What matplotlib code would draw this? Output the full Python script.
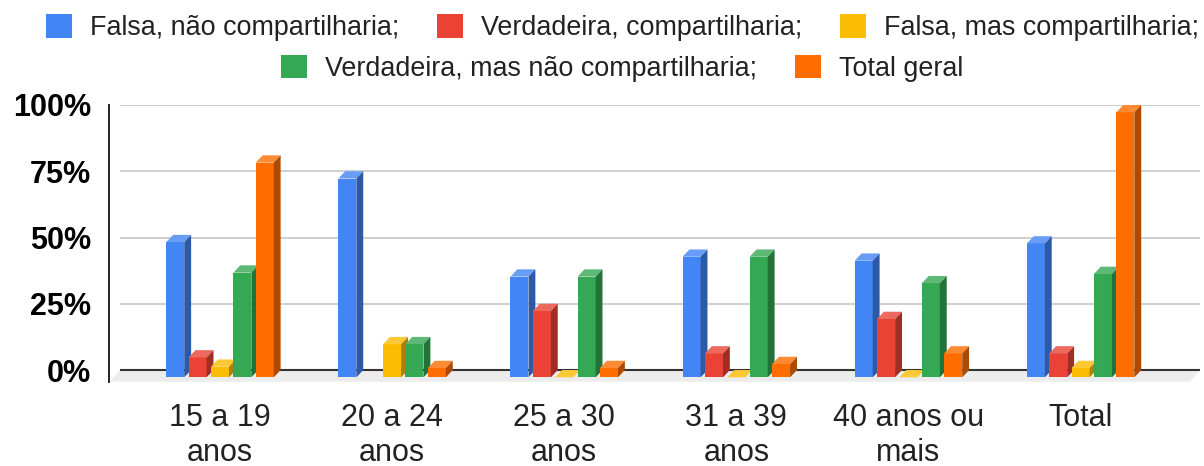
import matplotlib.pyplot as plt
import matplotlib.colors as mcolors
from matplotlib.patches import Polygon, Rectangle
import numpy as np

plt.rcParams['font.family'] = ['Liberation Sans', 'DejaVu Sans']

# faixas etárias
categorias = ['15 a 19\nanos', '20 a 24\nanos', '25 a 30\nanos',
              '31 a 39\nanos', '40 anos ou\nmais', 'Total']

series = ['Falsa, não compartilharia;', 'Verdadeira, compartilharia;',
          'Falsa, mas compartilharia;', 'Verdadeira, mas não compartilharia;',
          'Total geral']

# valores em % (nan = sem dado)
falsa_nao = [51, 75, 38, 45.5, 44, 50.5]
verdadeira_comp = [7.5, np.nan, 25, 9, 22, 9]
falsa_mas = [4, 12.5, 0, 0, 0, 3.5]
verdadeira_nao = [39.5, 12.5, 38, 45.5, 35.5, 39]
total_geral = [81, 3.5, 3.5, 5, 9, 100]

valores = [falsa_nao, verdadeira_comp, falsa_mas, verdadeira_nao, total_geral]
cores = ['#4285F4', '#EA4335', '#FBBC04', '#34A853', '#FF6D01']


def escurecer(c, f):
    r, g, b = mcolors.to_rgb(c)
    return (r * f, g * f, b * f)


def clarear(c, f):
    r, g, b = mcolors.to_rgb(c)
    return (r + (1 - r) * f, g + (1 - g) * f, b + (1 - b) * f)


fig = plt.figure(figsize=(12.04, 4.66), dpi=100)
ax = fig.add_axes([0.0905, 0.1809, 0.9062, 0.5938])

x_esq, x_dir = -0.645, 5.694
y_min, y_max = -4.4, 100
ax.set_xlim(x_esq, x_dir)
ax.set_ylim(y_min, y_max)

# profundidade do efeito 3D (unidades de dados)
dx = 0.040
dy = 2.75
passo = 0.130
larg = 0.1046

# chão
fundo_esq, fundo_dir = -0.581, x_dir
chao = Polygon([(fundo_esq, 0), (fundo_dir, 0), (5.636, y_min), (-0.639, y_min)],
               closed=True, facecolor='#ececec', edgecolor='none', zorder=1)
ax.add_patch(chao)

# grade
ax.hlines([25, 50, 75, 100], fundo_esq, fundo_dir, colors='#cccccc', linewidth=1.3, zorder=1.5)
ax.hlines([0], fundo_esq, fundo_dir, colors='#333333', linewidth=1.5, zorder=2)

idx = np.arange(len(categorias))
z = 3
for i in idx:
    for j in range(len(series)):
        v = valores[j][i]
        if np.isnan(v):
            continue
        cor = cores[j]
        x0 = i + (j - 2) * passo - larg / 2
        ax.bar(x0, v, width=larg, bottom=-dy, align='edge', color=cor, zorder=z)
        topo = Polygon([(x0, v - dy), (x0 + larg, v - dy), (x0 + larg + dx, v), (x0 + dx, v)],
                       closed=True, facecolor=clarear(cor, 0.2), edgecolor='none',
                       zorder=z, clip_on=False)
        lado = Polygon([(x0 + larg, -dy), (x0 + larg + dx, 0), (x0 + larg + dx, v), (x0 + larg, v - dy)],
                       closed=True, facecolor=escurecer(cor, 0.68), edgecolor='none',
                       zorder=z, clip_on=False)
        ax.add_patch(topo)
        ax.add_patch(lado)
        z += 0.01

for s in ['top', 'right', 'bottom']:
    ax.spines[s].set_visible(False)
ax.spines['left'].set_linewidth(1.3)
ax.spines['left'].set_color('#111111')

ax.set_yticks([0, 25, 50, 75, 100])
ax.set_yticklabels(['0%', '25%', '50%', '75%', '100%'], fontsize=22, fontweight='bold')
ax.tick_params(axis='y', length=0, pad=13)

ax.set_xticks(idx)
ax.set_xticklabels(categorias, fontsize=22, color='#222222', linespacing=1.22)
ax.tick_params(axis='x', length=0, pad=15)

# legenda em duas linhas centralizadas
handles = [Rectangle((0, 0), 1, 1, facecolor=c, edgecolor='none') for c in cores]
leg_kw = dict(frameon=False, fontsize=19.4, handlelength=0.97, handleheight=0.97,
              handletextpad=0.67, columnspacing=1.4, borderaxespad=0, borderpad=0,
              labelcolor='#222222', loc='center')
fig.legend(handles[:3], series[:3], ncol=3, bbox_to_anchor=(0.517, 0.94), **leg_kw)
fig.legend(handles[3:], series[3:], ncol=2, bbox_to_anchor=(0.517, 0.854), **leg_kw)

fig.savefig('out.png', dpi=100)
